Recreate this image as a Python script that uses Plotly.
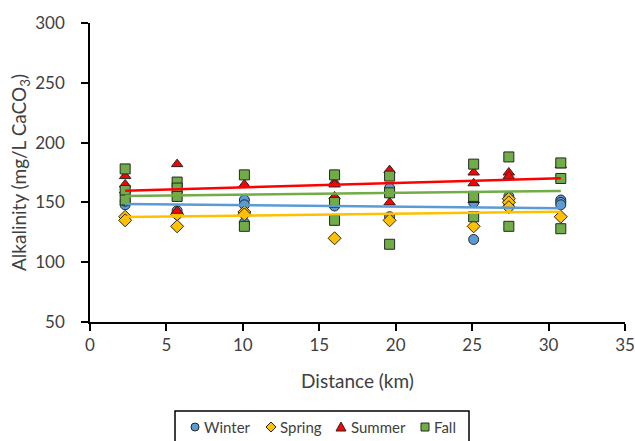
import plotly.graph_objects as go

# Sampling distances (km) and alkalinity values (mg/L CaCO3)
winter_x = [2.3, 2.3, 5.7, 5.7, 10.1, 10.1, 10.1, 16.0, 16.0, 19.6, 19.6, 25.1, 25.1, 27.4, 27.4, 27.4, 30.8, 30.8, 30.8]
winter_y = [148, 151, 143, 140, 152, 148, 133, 152, 147, 162, 138, 150, 119, 155, 152, 147, 152, 150, 148]

spring_x = [2.3, 2.3, 5.7, 5.7, 10.1, 10.1, 16.0, 19.6, 25.1, 27.4, 27.4, 27.4, 30.8]
spring_y = [138, 135, 140, 130, 142, 140, 120, 135, 130, 153, 150, 146, 138]

summer_x = [2.3, 2.3, 2.3, 5.7, 5.7, 10.1, 16.0, 16.0, 16.0, 19.6, 19.6, 25.1, 25.1, 25.1, 27.4, 27.4, 30.8]
summer_y = [172, 165, 160, 182, 143, 165, 167, 165, 155, 177, 150, 175, 166, 152, 175, 172, 181]

fall_x = [2.3, 2.3, 2.3, 5.7, 5.7, 5.7, 10.1, 10.1, 16.0, 16.0, 16.0, 19.6, 19.6, 19.6, 25.1, 25.1, 25.1, 27.4, 27.4, 30.8, 30.8, 30.8]
fall_y = [178, 160, 152, 167, 162, 155, 173, 130, 173, 150, 135, 172, 158, 115, 182, 155, 138, 188, 130, 183, 170, 128]

# Linear trendlines (end values)
trend_x = [2.3, 30.8]
winter_trend = [148.6, 145.2]
spring_trend = [137.8, 142.2]
summer_trend = [159.8, 170.2]
fall_trend = [155.4, 159.6]

series = [
    ("Winter", winter_x, winter_y, winter_trend, "circle", 10, "#5B9BD5"),
    ("Spring", spring_x, spring_y, spring_trend, "diamond", 10, "#FFC000"),
    ("Summer", summer_x, summer_y, summer_trend, "triangle-up", 10, "#FF0000"),
    ("Fall", fall_x, fall_y, fall_trend, "square", 10, "#70AD47"),
]

FONT = "Lato, Open Sans, sans-serif"
TXT = "#404040"
EDGE = "#262626"

fig = go.Figure()
for name, xs, ys, tr, sym, sz, col in series:
    fig.add_trace(go.Scatter(
        x=xs, y=ys, mode="markers", name=name, showlegend=False,
        marker=dict(symbol=sym, size=sz, color=col,
                    line=dict(color=EDGE, width=1)),
    ))

for name, xs, ys, tr, sym, sz, col in series:
    fig.add_trace(go.Scatter(
        x=trend_x, y=tr, mode="lines",
        line=dict(color=col, width=2.5), showlegend=False, hoverinfo="skip",
    ))

# ---- custom legend (box, symbols, labels) in paper coordinates ----
W, H = 635, 441
ML, MR, MT, MB = 90, 10, 23, 119
PW, PH = W - ML - MR, H - MT - MB


def px(xp):  # page pixel -> paper x
    return (xp - ML) / PW


def py(yp):  # page pixel -> paper y
    return (H - MB - yp) / PH


leg_y = py(427)
fig.add_shape(type="rect", xref="paper", yref="paper",
              x0=px(175), x1=px(469), y0=py(447), y1=py(411),
              line=dict(color="#000000", width=1.5), fillcolor="white")

sym_x = [195, 271, 341, 425]
txt_x = [202, 278, 349, 432]
paths = {
    "diamond": "M0,5 L5,0 L0,-5 L-5,0 Z",
    "triangle-up": "M-5,-4 L5,-4 L0,5 Z",
    "square": "M-4,-4 L4,-4 L4,4 L-4,4 Z",
}
for (name, xs, ys, tr, sym, sz, col), sx, tx in zip(series, sym_x, txt_x):
    if sym == "circle":
        fig.add_shape(type="circle", xref="paper", yref="paper",
                      xsizemode="pixel", ysizemode="pixel",
                      xanchor=px(sx), yanchor=leg_y,
                      x0=-4, x1=4, y0=-4, y1=4,
                      line=dict(color=EDGE, width=1), fillcolor=col)
    else:
        fig.add_shape(type="path", xref="paper", yref="paper",
                      xsizemode="pixel", ysizemode="pixel",
                      xanchor=px(sx), yanchor=leg_y,
                      path=paths[sym],
                      line=dict(color=EDGE, width=1), fillcolor=col)
    fig.add_annotation(x=px(tx), y=leg_y, xref="paper", yref="paper",
                       text=name, showarrow=False, xanchor="left", yanchor="middle",
                       font=dict(family=FONT, size=15, color=TXT))

axis_common = dict(
    showgrid=False, zeroline=False, showline=True, linecolor="#000000", linewidth=1.5,
    ticks="outside", ticklen=7, tickcolor="#000000", tickwidth=1.5,
    tickfont=dict(family=FONT, size=17, color=TXT),
    automargin=False, ticklabeloverflow="allow",
)

fig.update_layout(
    width=W, height=H,
    margin=dict(l=ML, r=MR, t=MT, b=MB, autoexpand=False),
    paper_bgcolor="white", plot_bgcolor="white",
    xaxis=dict(range=[0, 35], dtick=5,
               title=dict(text="Distance (km)", standoff=21,
                          font=dict(family=FONT, size=19, color=TXT)),
               **axis_common),
    yaxis=dict(range=[50, 300], dtick=50, ticksuffix="\u00a0\u00a0\u00a0",
               title=dict(text="Alkalinity (mg/L CaCO<sub>3</sub>)", standoff=4,
                          font=dict(family=FONT, size=19, color=TXT)),
               **axis_common),
    showlegend=False,
)

fig.write_html(
    "out.html",
    config={"displayModeBar": False},
    post_script="document.body.style.margin='0';document.body.style.overflow='hidden';",
)
